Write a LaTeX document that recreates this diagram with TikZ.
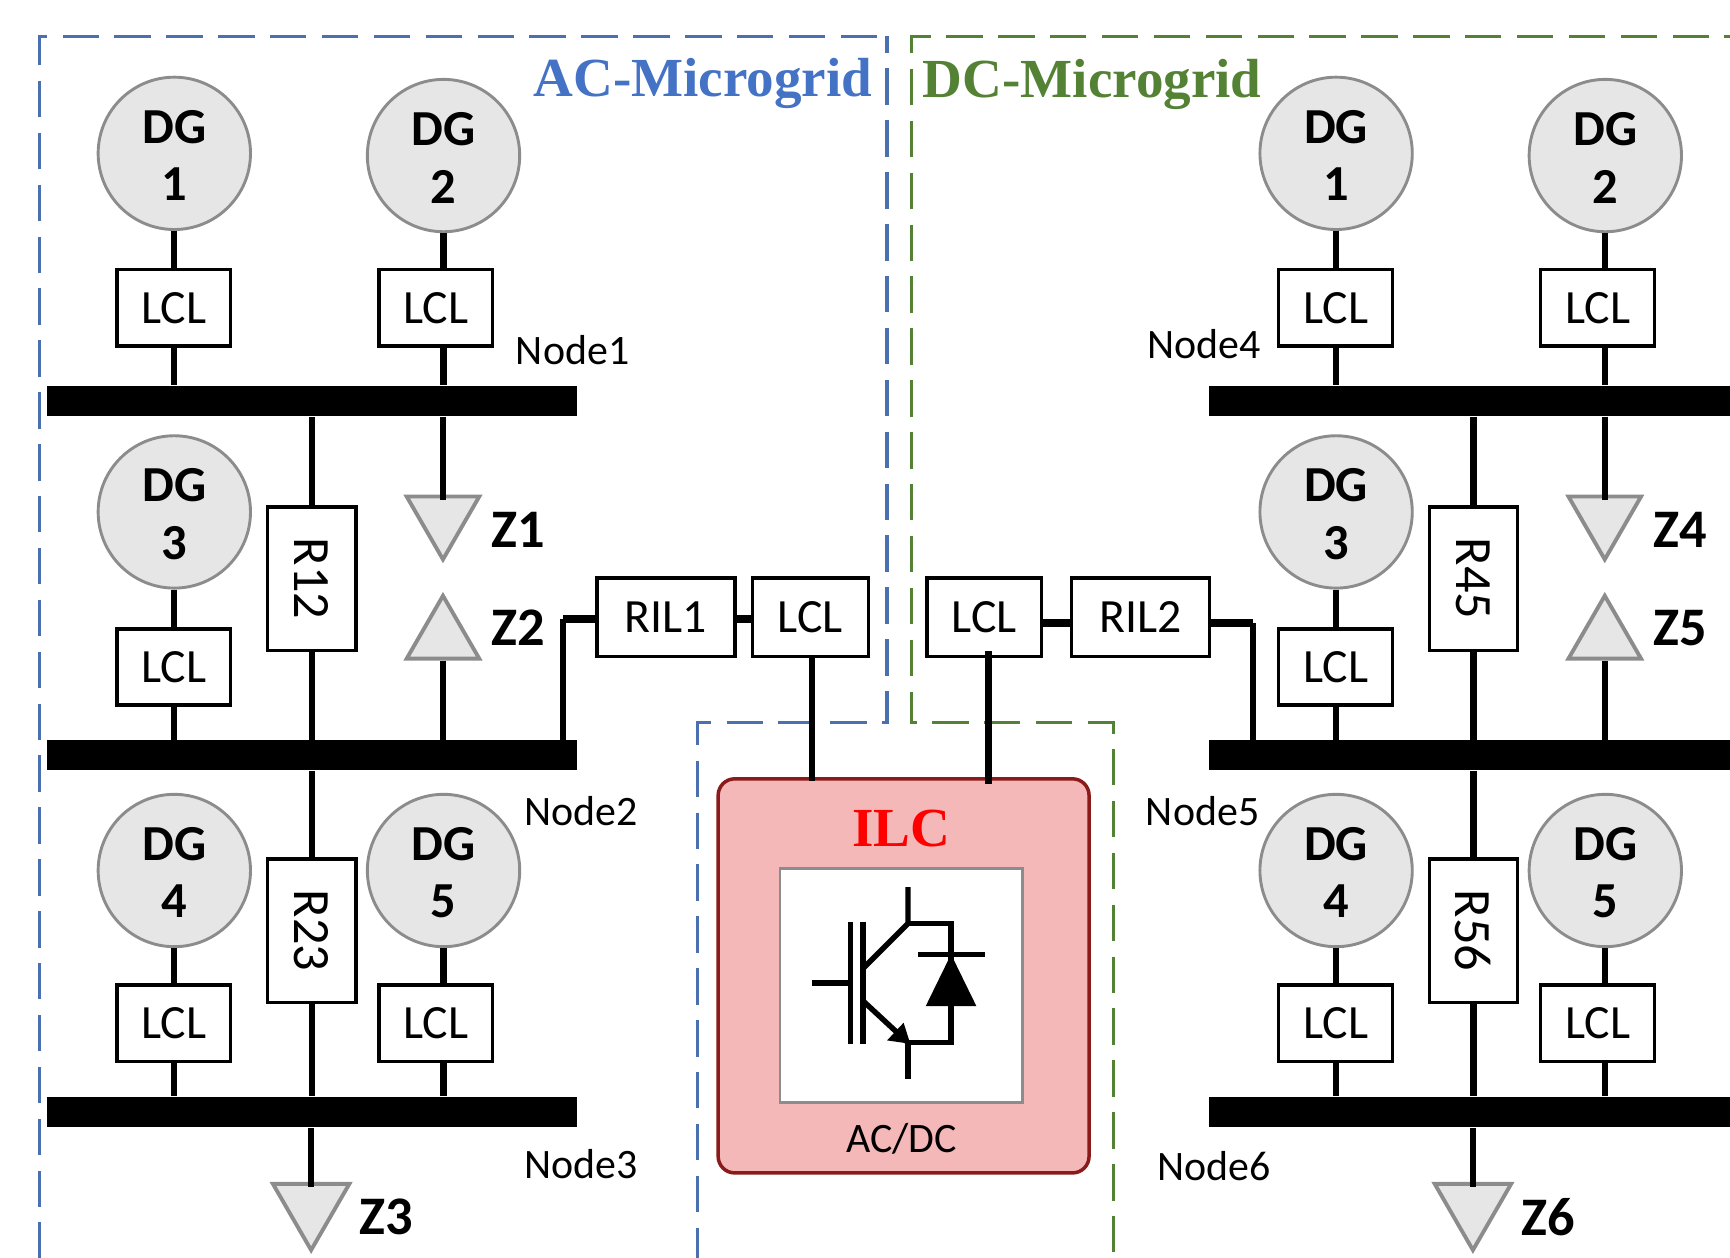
\documentclass[tikz,border=0pt]{standalone}
\usepackage{fontspec}
\setmainfont{Carlito}
\newfontfamily\titlefont{Liberation Serif}
\usetikzlibrary{shapes.geometric}
\definecolor{acblue}{HTML}{4472C4}
\definecolor{acdash}{HTML}{4A70B0}
\definecolor{dcgreen}{HTML}{548235}
\definecolor{ilcfill}{HTML}{F4B8B8}
\definecolor{ilcline}{HTML}{8B1A1A}
\definecolor{dgfill}{HTML}{E6E6E6}
\definecolor{dgline}{HTML}{8C8C8C}
\tikzset{
  zone/.style={line width=0.9pt, dash pattern=on 0.33cm off 0.14cm},
  dgnode/.style={circle, draw=dgline, fill=dgfill, line width=0.75pt, minimum size=1.38cm, inner sep=0pt, align=center, font=\bfseries\fontsize{13}{14.8}\selectfont},
  lcl/.style={draw, fill=white, line width=0.9pt, minimum width=1.03cm, minimum height=0.69cm, inner sep=0pt, font=\fontsize{12.3}{14}\selectfont},
  rbox/.style={draw, fill=white, line width=0.9pt, minimum width=0.8cm, minimum height=1.3cm, inner sep=0pt, font=\fontsize{13.5}{14}\selectfont},
  bus/.style={fill=black, minimum height=0.27cm, inner sep=0pt},
  load/.style={regular polygon, regular polygon sides=3, draw=dgline, fill=dgfill, line width=1pt, minimum size=0.76cm, inner sep=0pt},
  loaddown/.style={load, shape border rotate=180},
  zlabel/.style={font=\bfseries\fontsize{14}{16}\selectfont, inner sep=0pt},
  nodelabel/.style={font=\fontsize{10.8}{13}\selectfont, inner sep=0pt},
  wire/.style={line width=1.6pt},
  link/.style={line width=2.1pt},
  igbt/.style={line width=1.4pt}
}
\newcommand\Low[1]{\raisebox{-0.02cm}[\height][\depth]{#1}}

\begin{document}
\begin{tikzpicture}[x=0.01cm, y=-0.01cm]
  \useasboundingbox (0,0) rectangle (1568,1140);

  % microgrid borders
  \draw[zone, acdash, dash phase=0.01cm] (36,1140) -- (36,33) -- (804,33);
  \draw[zone, acdash, dash phase=0.18cm] (804,33) -- (804,655) -- (632,655) -- (632,1140);
  \draw[zone, dcgreen, dash phase=0.28cm] (1568,33) -- (826,33) -- (826,655) -- (1009,655) -- (1009,1140);
  \node[text=acblue, inner sep=0pt, font=\titlefont\bfseries\fontsize{14.2}{16}\selectfont] (actitle) at (637,76) {AC-Microgrid};
  \node[text=dcgreen, inner sep=0pt, font=\titlefont\bfseries\fontsize{14.2}{16}\selectfont] (dctitle) at (990,77) {DC-Microgrid};

  % buses
  \node[bus, minimum width=4.8cm] (busa1) at (283,363.5) {};
  \node[bus, minimum width=4.8cm] (busa2) at (283,684.5) {};
  \node[bus, minimum width=4.8cm] (busa3) at (283,1008) {};
  \node[bus, minimum width=4.72cm] (busb1) at (1332,363.5) {};
  \node[bus, minimum width=4.72cm] (busb2) at (1332,684.5) {};
  \node[bus, minimum width=4.72cm] (busb3) at (1332,1008) {};

  % both microgrids are laid out alike
  \foreach \sd/\dx/\ra/\rb/\za/\zb/\zc in {a/0/R12/R23/Z1/Z2/Z3, b/1053/R45/R56/Z4/Z5/Z6} {
    \foreach \n/\xd/\yd/\xl/\yl/\bs in {1/158/139/157.5/279/1, 2/402/141/395/279/1, 3/158/464/157.5/604.5/2, 4/158/789/157.5/927.5/3, 5/402/789/395/927.5/3} {
      \node[dgnode] (dg\sd\n) at ({\xd+\dx},\yd) {\Low{DG}\\\Low{\n}};
      \node[lcl] (lcl\sd\n) at ({\xl+\dx},\yl) {\raisebox{-0.02cm}{LCL}};
      \draw[wire] (dg\sd\n) -- (dg\sd\n |- lcl\sd\n.north);
      \draw[wire] (dg\sd\n |- lcl\sd\n.south) -- (dg\sd\n |- bus\sd\bs.north);
    }
    % line resistors
    \node[rbox] (r\sd1) at ({282.5+\dx},524.5) {\rotatebox{-90}{\ra}};
    \node[rbox] (r\sd2) at ({282.5+\dx},843.5) {\rotatebox{-90}{\rb}};
    \draw[wire] (r\sd1.north |- bus\sd1.south) -- (r\sd1.north);
    \draw[wire] (r\sd1.south) -- (r\sd1.south |- bus\sd2.north);
    \draw[wire] (r\sd2.north |- bus\sd2.south) -- (r\sd2.north);
    \draw[wire] (r\sd2.south) -- (r\sd2.south |- bus\sd3.north);
    % loads
    \node[loaddown] (z\sd1) at ({401.5+\dx},469) {};
    \node[load] (z\sd2) at ({401.5+\dx},578) {};
    \node[loaddown, minimum size=0.8cm] (z\sd3) at ({282+\dx},1093) {};
    \draw[wire] (z\sd1.north |- bus\sd1.south) -- ([yshift=-0.05cm]z\sd1.north);
    \draw[wire] (z\sd2.south) -- (z\sd2.south |- bus\sd2.north);
    \draw[wire] (z\sd3.north |- bus\sd3.south) -- ([yshift=-0.05cm]z\sd3.north);
    \node[zlabel] (zl\sd1) at ({470+\dx},480) {\za};
    \node[zlabel] (zl\sd2) at ({470+\dx},569) {\zb};
    \node[zlabel] (zl\sd3) at ({350+\dx},1103) {\zc};
  }

  \node[nodelabel] (nl1) at (519,317) {Node1};
  \node[nodelabel] (nl2) at (527,735) {Node2};
  \node[nodelabel] (nl3) at (527,1055) {Node3};
  \node[nodelabel] (nl4) at (1091,312) {Node4};
  \node[nodelabel] (nl5) at (1090,735) {Node5};
  \node[nodelabel] (nl6) at (1100,1057) {Node6};

  % interlink
  \node[draw=ilcline, fill=ilcfill, line width=0.9pt, rounded corners=0.15cm, minimum width=3.36cm, minimum height=3.57cm, inner sep=0pt] (ilc) at (819,884.5) {};
  \node[text=red, inner sep=0pt, font=\titlefont\bfseries\fontsize{14.2}{16}\selectfont] (ilctitle) at (817,751) {ILC};
  \node[draw=dgline, fill=white, line width=0.75pt, minimum width=2.2cm, minimum height=2.12cm, inner sep=0pt] (igbtbox) at (817,893) {};
  \node[inner sep=0pt, font=\fontsize{10.8}{14}\selectfont] (acdc) at (817,1032) {AC/DC};

  \node[lcl, minimum width=1.25cm, minimum height=0.71cm] (ril1) at (603.5,559.5) {\raisebox{-0.02cm}{RIL1}};
  \node[lcl, minimum height=0.71cm, minimum width=1.05cm] (lclc1) at (734.5,559.5) {\raisebox{-0.02cm}{LCL}};
  \node[lcl, minimum height=0.71cm, minimum width=1.04cm] (lclc2) at (892,559.5) {\raisebox{-0.02cm}{LCL}};
  \node[lcl, minimum width=1.25cm, minimum height=0.71cm] (ril2) at (1033.5,559.5) {\raisebox{-0.02cm}{RIL2}};
  \coordinate (elbowa) at (510,561);
  \coordinate (elbowb) at (1136,565);
  \coordinate (stema) at (736,595);
  \coordinate (stemb) at (896,590);

  \draw[link] (ril1.west |- elbowa) -- (elbowa);
  \draw[wire] (elbowa) -- (elbowa |- busa2.north);
  \draw[link] (ril1.east |- elbowa) -- (lclc1.west |- elbowa);
  \draw[link] (lclc2.east |- elbowb) -- (ril2.west |- elbowb);
  \draw[link] (ril2.east |- elbowb) -- (elbowb);
  \draw[wire] (elbowb) -- (elbowb |- busb2.north);
  \draw[wire] (stema) -- ([yshift=-0.04cm]stema |- ilc.north);
  \draw[wire] (stemb) -- ([yshift=-0.06cm]stemb |- ilc.north);

  % igbt symbol
  \draw[igbt] (736,891) -- (771,891);
  \draw[igbt] (771,836) -- (771,946);
  \draw[igbt] (782,836) -- (782,946);
  \draw[igbt] (782,878) -- (823,837) -- (823,804);
  \draw[igbt] (823,837) -- (862,837) -- (862,945) -- (823,945) -- (823,978);
  \draw[igbt] (782,907) -- (823,945);
  \fill (825,946) -- (804,943) -- (819,927) -- cycle;
  \draw[igbt] (832,865) -- (893,865);
  \fill (862,865) -- (839,912) -- (885,912) -- cycle;
\end{tikzpicture}
\end{document}
